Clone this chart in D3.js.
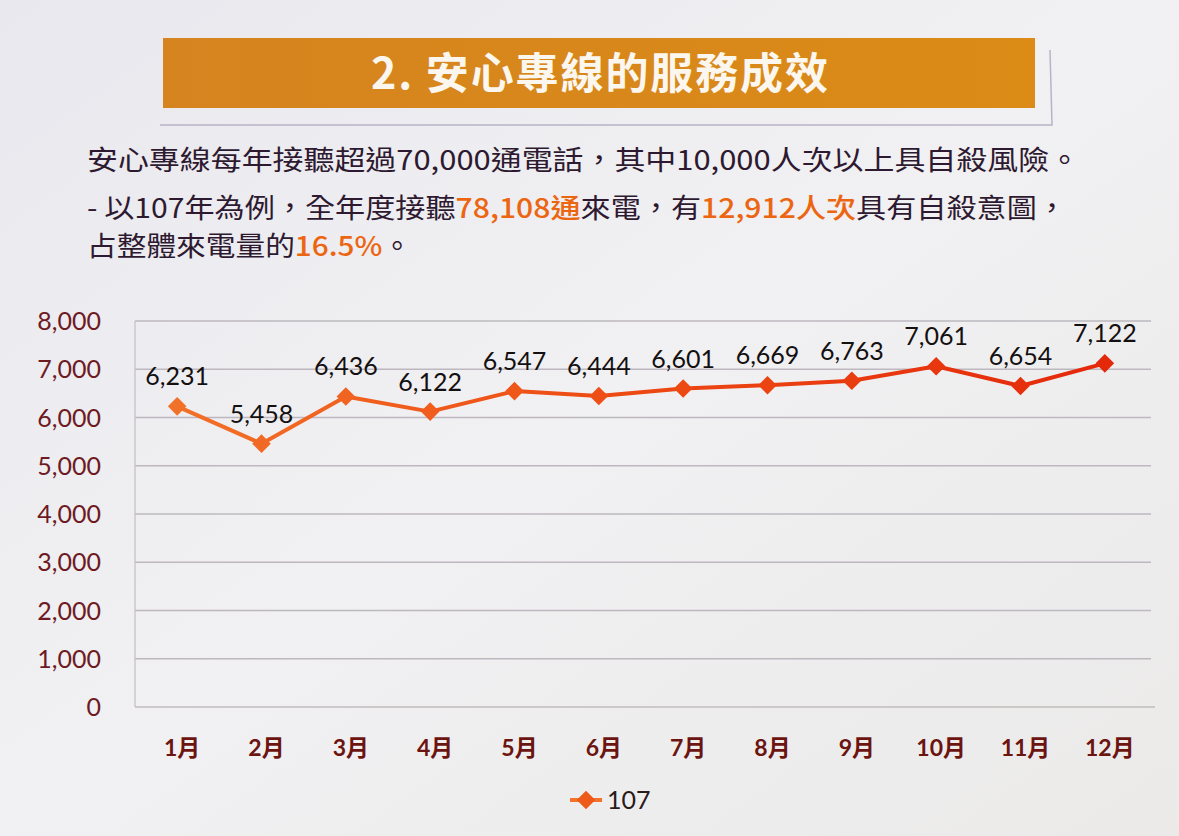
<!DOCTYPE html>
<html>
<head>
<meta charset="utf-8">
<script src="https://cdn.jsdelivr.net/npm/d3@7"></script>
<style>
  html, body { margin: 0; padding: 0; background: #edecef; }
  svg { display: block; }
</style>
</head>
<body>
<svg id="chart" width="1179" height="836"></svg>
<script>
// Monthly calls, year 107
const months = ["1月", "2月", "3月", "4月", "5月", "6月", "7月", "8月", "9月", "10月", "11月", "12月"];
const calls107 = [6231, 5458, 6436, 6122, 6547, 6444, 6601, 6669, 6763, 7061, 6654, 7122];
const yTicks = [0, 1000, 2000, 3000, 4000, 5000, 6000, 7000, 8000];
const seriesName = "107";

const titleText = "2. 安心專線的服務成效";
// text runs: [text, highlighted]
const line1 = [["安心專線每年接聽超過70,000通電話，其中10,000人次以上具自殺風險。", false]];
const line2 = [["- 以107年為例，全年度接聽", false], ["78,108通", true], ["來電，有", false], ["12,912人次", true], ["具有自殺意圖，", false]];
const line3 = [["占整體來電量的", false], ["16.5%", true], ["。", false]];

const CJK = "'Noto Sans CJK TC', 'Noto Sans CJK SC', sans-serif";
const NUM = "Lato, 'Noto Sans CJK TC', sans-serif";

const svg = d3.select("#chart");

// background
const defs = svg.append("defs");
const bg = defs.append("linearGradient").attr("id", "bg").attr("x1", 0).attr("y1", 0).attr("x2", 1).attr("y2", 1);
bg.append("stop").attr("offset", "0%").attr("stop-color", "#e9e8ee");
bg.append("stop").attr("offset", "50%").attr("stop-color", "#f1f0f2");
bg.append("stop").attr("offset", "100%").attr("stop-color", "#ebeae9");
svg.append("rect").attr("width", 1179).attr("height", 836).attr("fill", "url(#bg)");

// title banner
const tg = defs.append("linearGradient").attr("id", "titleGrad").attr("x1", 0).attr("x2", 1);
tg.append("stop").attr("offset", "0%").attr("stop-color", "#d5841f");
tg.append("stop").attr("offset", "100%").attr("stop-color", "#db8b16");
svg.append("path")
  .attr("d", "M160,125 L1052,125 L1050,50")
  .attr("fill", "none").attr("stroke", "#b9b3c8").attr("stroke-width", 1.5);
svg.append("rect")
  .attr("x", 163).attr("y", 38).attr("width", 872).attr("height", 70)
  .attr("fill", "url(#titleGrad)");
svg.append("text")
  .attr("x", 371).attr("y", 89)
  .attr("font-family", CJK).attr("font-weight", "bold").attr("font-size", 43)
  .attr("textLength", 457).attr("lengthAdjust", "spacing")
  .attr("fill", "#fbf6ee")
  .text(titleText);

// description text
function textLine(runs, x, y, width) {
  const t = svg.append("text")
    .attr("x", x).attr("y", y)
    .attr("font-family", CJK).attr("font-size", 27)
    .attr("fill", "#2e1a30");
  if (width) t.attr("textLength", width).attr("lengthAdjust", "spacingAndGlyphs");
  runs.forEach(([s, hi]) => {
    t.append("tspan")
      .attr("fill", hi ? "#ec6612" : null)
      .attr("font-weight", hi ? 500 : null)
      .text(s);
  });
}
textLine(line1, 87, 170, 993);
textLine(line2, 87, 218, 980);
textLine(line3, 87, 256, 325);

// chart
const plot = { left: 135, right: 1147, top: 321, bottom: 707 };

const x = d3.scaleBand()
  .domain(months)
  .range([plot.left, plot.right]);

const y = d3.scaleLinear()
  .domain([0, 8000])
  .range([plot.bottom, plot.top]);

const fmt = d3.format(",");

// gridlines
svg.append("g")
  .selectAll("line")
  .data(yTicks.filter(d => d > 0))
  .join("line")
  .attr("x1", plot.left).attr("x2", plot.right + 4)
  .attr("y1", d => y(d)).attr("y2", d => y(d))
  .attr("stroke", "#bdb8bf").attr("stroke-width", 1.3);

// left and bottom axis lines
svg.append("line")
  .attr("x1", plot.left).attr("x2", plot.left)
  .attr("y1", plot.top).attr("y2", plot.bottom)
  .attr("stroke", "#c6c2c8").attr("stroke-width", 1.3);
svg.append("line")
  .attr("x1", plot.left).attr("x2", plot.right + 8)
  .attr("y1", plot.bottom).attr("y2", plot.bottom)
  .attr("stroke", "#c2bcbc").attr("stroke-width", 1.5);

// y tick labels
svg.append("g")
  .selectAll("text")
  .data(yTicks)
  .join("text")
  .attr("x", 101).attr("y", d => y(d) + 9)
  .attr("text-anchor", "end")
  .attr("font-family", NUM).attr("font-size", 25)
  .attr("fill", "#6e1a22")
  .text(d => fmt(d));

// x labels
svg.append("g")
  .selectAll("text")
  .data(months)
  .join("text")
  .attr("x", d => x(d) + x.bandwidth() / 2 + 5)
  .attr("y", 756)
  .attr("text-anchor", "middle")
  .attr("font-family", NUM).attr("font-weight", "bold").attr("font-size", 23)
  .attr("fill", "#6b1410")
  .text(d => d);

// series line
const lg = defs.append("linearGradient").attr("id", "lineGrad")
  .attr("gradientUnits", "userSpaceOnUse")
  .attr("x1", plot.left).attr("x2", plot.right).attr("y1", 0).attr("y2", 0);
lg.append("stop").attr("offset", "0%").attr("stop-color", "#f2742a");
lg.append("stop").attr("offset", "45%").attr("stop-color", "#ee4c14");
lg.append("stop").attr("offset", "100%").attr("stop-color", "#e3260a");

const pts = calls107.map((v, i) => ({ m: months[i], v }));
const cx = d => x(d.m) + x.bandwidth() / 2;

svg.append("path")
  .datum(pts)
  .attr("fill", "none")
  .attr("stroke", "url(#lineGrad)")
  .attr("stroke-width", 4)
  .attr("stroke-linejoin", "round")
  .attr("d", d3.line().x(cx).y(d => y(d.v)));

const diamond = d3.symbol().type(d3.symbolDiamond2).size(220);
const pointColor = d3.scaleLinear()
  .domain([plot.left, (plot.left + plot.right) / 2, plot.right])
  .range(["#f2742a", "#ee4c14", "#e3260a"]);

svg.append("g")
  .selectAll("path")
  .data(pts)
  .join("path")
  .attr("transform", d => `translate(${cx(d)},${y(d.v)})`)
  .attr("d", diamond)
  .attr("fill", d => pointColor(cx(d)));

// data labels
svg.append("g")
  .selectAll("text")
  .data(pts)
  .join("text")
  .attr("x", cx)
  .attr("y", d => y(d.v) - 21)
  .attr("text-anchor", "middle")
  .attr("font-family", NUM).attr("font-size", 25)
  .attr("fill", "#141010")
  .text(d => fmt(d.v));

// legend
const leg = svg.append("g").attr("transform", "translate(570,800)");
leg.append("line")
  .attr("x1", 0).attr("x2", 32).attr("y1", 0).attr("y2", 0)
  .attr("stroke", "#f2742a").attr("stroke-width", 4);
leg.append("path")
  .attr("transform", "translate(16,0)")
  .attr("d", diamond)
  .attr("fill", "#ee5a1a");
leg.append("text")
  .attr("x", 37).attr("y", 9)
  .attr("font-family", NUM).attr("font-size", 25)
  .attr("fill", "#2a1a1a")
  .text(seriesName);
</script>
</body>
</html>
